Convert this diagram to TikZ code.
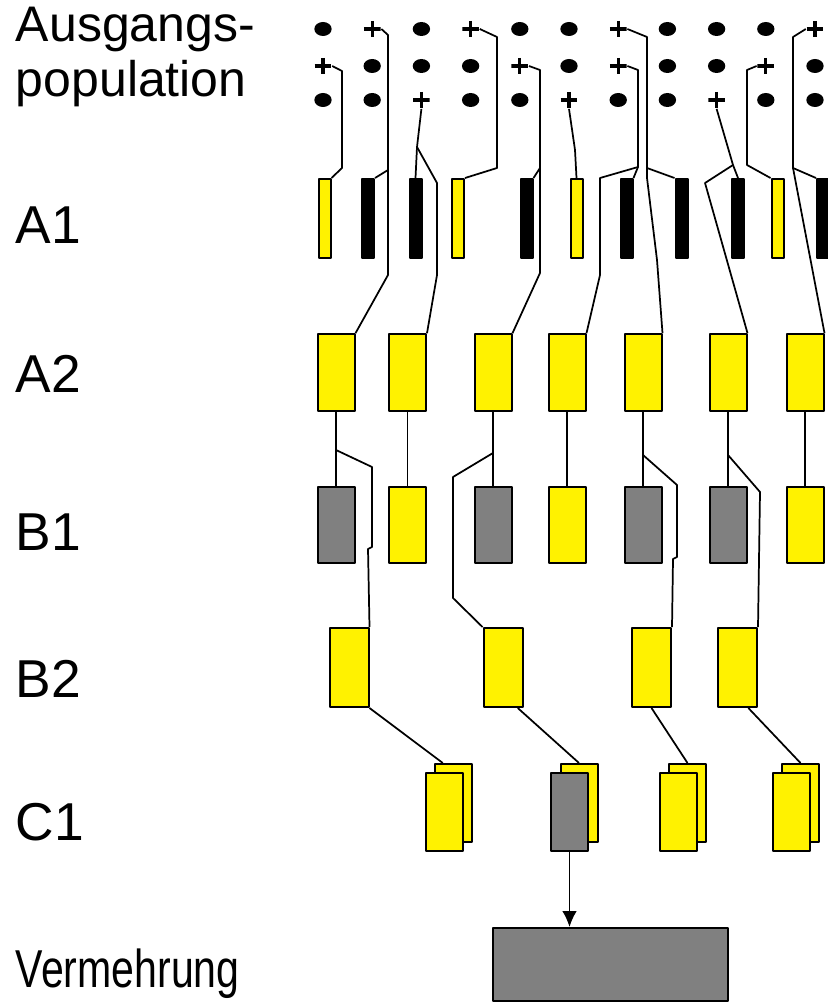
\documentclass[tikz,border=0pt]{standalone}
\usepackage{fontspec}
\setmainfont{Liberation Sans}
\usetikzlibrary{shapes.geometric,arrows.meta}

\begin{document}
\begin{tikzpicture}[x=0.75pt,y=-0.75pt,line join=round,line width=1.3pt,
  dotm/.style={ellipse,fill,minimum width=13pt,minimum height=10.5pt,inner sep=0pt},
  plusm/.style={minimum width=12.5pt,minimum height=12pt,inner sep=0pt,
    path picture={\draw[line width=2.3pt] (path picture bounding box.north)--(path picture bounding box.south)
      (path picture bounding box.west)--(path picture bounding box.east);}},
  bar/.style={draw,line width=1.5pt,minimum width=9pt,minimum height=59.25pt,inner sep=0pt},
  box/.style={draw,line width=1.5pt,minimum width=27.75pt,minimum height=57.5pt,inner sep=0pt},
  lab/.style={anchor=base west,inner sep=0pt,font=\fontsize{40}{44}\selectfont}]
\useasboundingbox (0,0) rectangle (827,1005);

\node[lab,font=\fontsize{37.5}{40}\selectfont] (t1) at (15,42) {Ausgangs-};
\node[lab,font=\fontsize{37.5}{40}\selectfont] (t2) at (15,97) {population};
\node[lab] (t3) at (15,244) {A1};
\node[lab] (t4) at (15,392) {A2};
\node[lab] (t5) at (15,550) {B1};
\node[lab] (t6) at (15,697) {B2};
\node[lab] (t7) at (15,840) {C1};
\node[lab] (t8) at (15,987) {\scalebox{0.77}[1]{Vermehrung}};

% Ausgangspopulation
\foreach \t [count=\c] in {dotm,plusm,dotm,plusm,dotm,dotm,plusm,dotm,dotm,dotm,plusm}
  \node[\t] (r1-\c) at ({323+49.2*(\c-1)},29) {};
\foreach \t [count=\c] in {plusm,dotm,dotm,dotm,plusm,dotm,plusm,dotm,dotm,plusm,dotm}
  \node[\t] (r2-\c) at ({323+49.2*(\c-1)},66) {};
\foreach \t [count=\c] in {dotm,dotm,plusm,dotm,dotm,plusm,dotm,dotm,plusm,dotm,dotm}
  \node[\t] (r3-\c) at ({323+49.2*(\c-1)},100) {};

% A1
\foreach \c/\x/\f in {1/324.5/yellow,2/368/black,3/415.5/black,4/458/yellow,5/526.5/black,6/576.5/yellow,
    7/626.5/black,8/681.5/black,9/738/black,10/777.5/yellow,11/823/black}
  \node[bar,fill=\f] (a1-\c) at (\x,218.5) {};

% A2 und B1
\foreach \c/\x/\f in {1/336/gray,2/407.5/yellow,3/493/gray,4/567/yellow,5/643/gray,6/728/gray,7/805/yellow}{
  \node[box,fill=yellow] (a2-\c) at (\x,372.5) {};
  \node[box,fill=\f] (b1-\c) at (\x,525) {};
}

% B2
\foreach \c/\x in {1/349,2/503,3/651.5,4/737.5}
  \node[box,minimum width=29.25pt,minimum height=59.25pt,fill=yellow] (b2-\c) at (\x,667.5) {};

% C1
\foreach \c/\x/\f in {1/444/yellow,2/569.5/gray,3/678/yellow,4/791/yellow}{
  \node[box,minimum height=58.5pt,fill=yellow] (c1b-\c) at (\x+9.5,803) {};
  \node[box,minimum height=58.5pt,fill=\f] (c1-\c) at (\x,812) {};
}

\node[box,minimum width=176.25pt,minimum height=54.75pt,fill=gray] (vm) at (610.5,964.5) {};

\draw (r2-1.east)--(342,71)--(342,168)--(a1-1.north east);
\draw (r1-2.east)--(388,35)--(388,275)--(a2-1.north east);
\draw (388,170)--(a1-2.north east);
\draw (r3-3.south)--(417,147)--(a1-3.north);
\draw (417,147)--(437,183)--(437,275)--(a2-2.north east);
\draw (r1-4.east)--(497,37)--(497,168)--(a1-4.north east);
\draw (r2-5.east)--(540,70)--(540,273)--(a2-3.north east);
\draw (540,168)--(a1-5.north east);
\draw (r3-6.south)--(575,150)--(a1-6.north);
\draw (r1-7.east)--(647,37)--(647,178)--(657,260)--(a2-5.north east);
\draw (647,168)--(a1-8.north west);
\draw (r2-7.east)--(638,70)--(638,167)--(600,178)--(600,275)--(a2-4.north east);
\draw (638,167)--(a1-7.north east);
\draw (r3-9.south)--(733,165)--(a1-9.north);
\draw (733,165)--(705,183)--(707,190)--(a2-6.north east);
\draw (r2-10.west)--(747,70)--(747,165)--(a1-10.north west);
\draw (r1-11.west)--(793,37)--(793,168)--(a1-11.north west);
\draw (793,168)--(a2-7.north east);

\foreach \c in {1,...,7}
  \draw (a2-\c.south)--(b1-\c.north);
\draw (336,450)--(372,467)--(372,547)--(368,549)--(b2-1.north east);
\draw (493,453)--(453,477)--(453,598)--(b2-2.north west);
\draw (643,455)--(677,485)--(677,557)--(673,559)--(b2-3.north east);
\draw (728,455)--(760,492)--(b2-4.north east);

\draw (b2-1.south east)--(c1b-1.105);
\draw (b2-2.-70)--(c1b-2.north);
\draw (b2-3.south)--(c1b-3.north);
\draw (b2-4.-75)--(c1b-4.north);

\draw[-{Latex[length=12pt,width=11pt]}] (c1-2.south)--(c1-2.south |- vm.north);
\end{tikzpicture}
\end{document}
